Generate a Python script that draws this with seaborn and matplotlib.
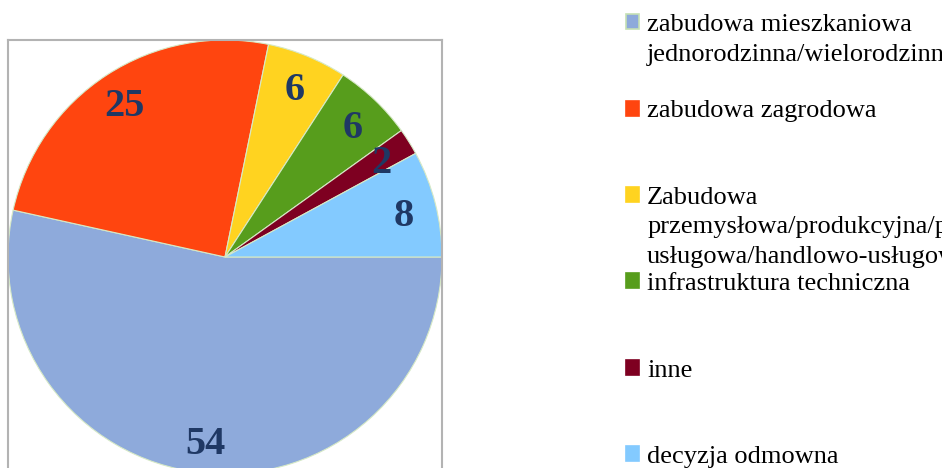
import matplotlib
matplotlib.use("Agg")
import matplotlib.pyplot as plt
import seaborn as sns
from matplotlib.patches import Patch

categories = [
    "zabudowa mieszkaniowa\njednorodzinna/wielorodzinna",
    "zabudowa zagrodowa",
    "Zabudowa\nprzemysłowa/produkcyjna/produkcyjno-\nusługowa/handlowo-usługowa",
    "infrastruktura techniczna",
    "inne",
    "decyzja odmowna",
]
values = [54, 25, 6, 6, 2, 8]
colors = ["#8eaadb", "#ff450f", "#ffd320", "#579d1c", "#7e0021", "#83caff"]

sns.set_theme(style="white")
plt.rcParams["font.family"] = ["Liberation Serif", "DejaVu Serif"]

fig = plt.figure(figsize=(9.42, 4.68), dpi=100)
W, H = 942, 468
ax = fig.add_axes([8 / W, (468 - 474) / H, 434 / W, 434 / H])

total = sum(values)
wedges, texts, autotexts = ax.pie(
    values,
    colors=sns.color_palette(colors),
    startangle=0,
    counterclock=False,
    autopct=lambda p: f"{round(p * total / 100)}",
    pctdistance=0.85,
    wedgeprops=dict(edgecolor="#d6e9c6", linewidth=0.8),
    textprops=dict(color="#1f3864", fontsize=29, fontweight="bold"),
)
for t in autotexts:
    t.set_va("center_baseline")
ax.set_xlim(-1, 1)
ax.set_ylim(-1, 1)
ax.set_frame_on(True)
for s in ax.spines.values():
    s.set_visible(True)
    s.set_color("#b3b3b3")
    s.set_linewidth(1.5)
ax.set_xticks([])
ax.set_yticks([])

first_lines = [c.split("\n")[0] for c in categories]
handles = []
for i, c in enumerate(colors):
    ec = "#c5e0b4" if i == 0 else c
    handles.append(Patch(facecolor=c, edgecolor=ec, linewidth=1.2))

FS = 19
leg = fig.legend(
    handles, first_lines,
    loc="upper left", bbox_to_anchor=(626 / W, 1 - 14 / H),
    frameon=False, fontsize=FS, borderpad=0, borderaxespad=0,
    handlelength=0.5, handleheight=0.5, handletextpad=0.3,
    labelspacing=2.44, labelcolor="black",
)

fig.canvas.draw()
inv = fig.transFigure.inverted()
line_h = 29.5
for txt, full in zip(leg.get_texts(), categories):
    extra = full.split("\n")[1:]
    if not extra:
        continue
    bb = txt.get_window_extent()
    for k, line in enumerate(extra, start=1):
        x, y = inv.transform((bb.x0, bb.y0 - k * line_h))
        fig.text(x, y, line, fontsize=FS, color="black", ha="left", va="bottom")

fig.savefig("out.png", dpi=100)
